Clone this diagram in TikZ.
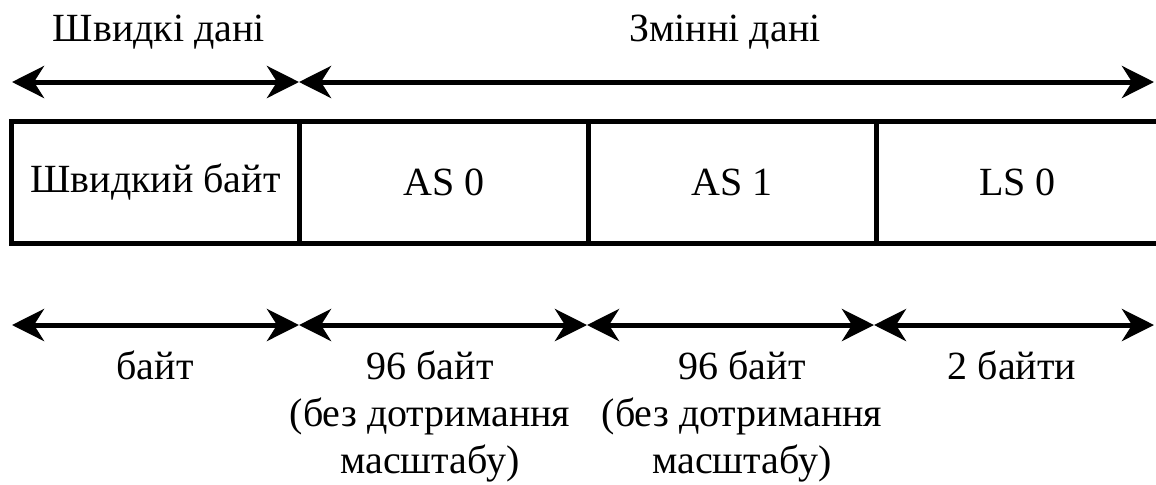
\documentclass[tikz,border=0pt]{standalone}
\usepackage{fontspec}
\setmainfont{Liberation Serif}
\usetikzlibrary{arrows.meta,positioning}

\tikzset{
  cell/.style={minimum height=60.5pt,inner sep=0pt,font=\fontsize{20}{23.5}\selectfont},
  frame/.style={line width=2.5pt},
  span/.style={{Stealth[length=16pt,width=16pt,inset=5pt]}-{Stealth[length=16pt,width=16pt,inset=5pt]},line width=2.5pt},
  lbl/.style={font=\fontsize{20}{23.5}\selectfont,align=center,inner sep=0pt}
}

\begin{document}
\begin{tikzpicture}[x=0.5pt,y=-0.5pt]
\useasboundingbox (0,0) rectangle (1156,484);

% headings over the arrows
\node[lbl,anchor=base] (fasthead) at (159,41) {Швидкі дані};
\node[lbl,anchor=base] (varhead) at (725,41) {Змінні дані};

% the frame and its cells
\node[cell,minimum width=143.5pt] (fast) at (155.5,182.5) {Швидкий байт};
\node[cell,minimum width=144pt,right=0pt of fast] (as0) {AS 0};
\node[cell,minimum width=143.5pt,right=0pt of as0] (as1) {AS 1};
\node[cell,minimum width=141pt,right=0pt of as1] (ls0) {LS 0};
\draw[frame] (ls0.north east) -- (fast.north west) -- (fast.south west) -- (ls0.south east);
\draw[frame] (fast.north east) -- (fast.south east);
\draw[frame] (as0.north east) -- (as0.south east);
\draw[frame] (as1.north east) -- (as1.south east);

% arrows above
\coordinate (t0) at (12,82);
\coordinate (t1) at (299,82);
\coordinate (t2) at (1154,82);
\draw[span] (t0) -- (t1);
\draw[span] (t1) -- (t2);

% arrows below
\coordinate (b0) at (12,325);
\coordinate (b1) at (299,325);
\coordinate (b2) at (587,325);
\coordinate (b3) at (874,325);
\coordinate (b4) at (1154,325);
\draw[span] (b0) -- (b1);
\draw[span] (b1) -- (b2);
\draw[span] (b2) -- (b3);
\draw[span] (b3) -- (b4);

% sizes (base = last line)
\node[lbl,anchor=base] (fastsize) at (155,379) {байт};
\node[lbl,anchor=base] (as0size) at (430,473) {96 байт\\(без дотримання\\масштабу)};
\node[lbl,anchor=base] (as1size) at (742,473) {96 байт\\(без дотримання\\масштабу)};
\node[lbl,anchor=base] (ls0size) at (1012,379) {2 байти};
\end{tikzpicture}
\end{document}
